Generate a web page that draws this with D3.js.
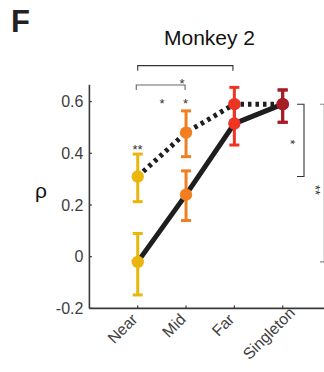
<!DOCTYPE html>
<html>
<head>
<meta charset="utf-8">
<script src="https://cdn.jsdelivr.net/npm/d3@7"></script>
<style>
  html, body { margin: 0; padding: 0; background: #fff; }
  svg { display: block; font-family: "Liberation Sans", Arial, sans-serif; }
</style>
</head>
<body>
<svg id="chart" width="324" height="372"></svg>
<script>
// Conditions along the x axis
const categories = ["Near", "Mid", "Far", "Singleton"];
const categoryColors = ["#EAB60E", "#F27E22", "#EE3524", "#A51D25"];

// Correlation (rho) per condition, solid and dotted series
const solidValues = [-0.02, 0.24, 0.515, 0.59];
const solidLow    = [-0.148, 0.14, 0.432, 0.52];
const solidHigh   = [0.09, 0.332, 0.60, 0.645];

const dottedValues = [0.31, 0.48, 0.59, 0.59];
const dottedLow    = [0.213, 0.387, 0.525, 0.52];
const dottedHigh   = [0.397, 0.564, 0.655, 0.645];

const yTicks = [-0.2, 0, 0.2, 0.4, 0.6];
const yTickLabels = ["-0.2", "0", "0.2", "0.4", "0.6"];

const svg = d3.select("#chart");

const x = d3.scaleLinear().domain([0, 5]).range([89.4, 331]);
const y = d3.scaleLinear().domain([-0.2, 0.6]).range([308.4, 101.6]);
const yTop = 0.665;

const axisColor = "#3a3a3a";
const textColor = "#404040";

// Panel letter and title
svg.append("text").attr("x", 11).attr("y", 32)
  .attr("font-size", 31).attr("font-weight", "bold").attr("fill", "#222")
  .text("F");
svg.append("text").attr("x", 209.5).attr("y", 45)
  .attr("text-anchor", "middle").attr("font-size", 21).attr("fill", "#111")
  .text("Monkey 2");

// Axes
const gAxes = svg.append("g");
gAxes.append("line")
  .attr("x1", x(0)).attr("x2", x(0))
  .attr("y1", y(yTop)).attr("y2", y(-0.2))
  .attr("stroke", axisColor).attr("stroke-width", 1.6);
gAxes.append("line")
  .attr("x1", x(0)).attr("x2", 324)
  .attr("y1", y(-0.2)).attr("y2", y(-0.2))
  .attr("stroke", axisColor).attr("stroke-width", 1.6);

// y ticks (pointing inward) and labels
yTicks.forEach((t, i) => {
  gAxes.append("line")
    .attr("x1", x(0)).attr("x2", x(0) + 2.5)
    .attr("y1", y(t)).attr("y2", y(t))
    .attr("stroke", axisColor).attr("stroke-width", 1.2);
  gAxes.append("text")
    .attr("x", x(0) - 6).attr("y", y(t) + 5.5)
    .attr("text-anchor", "end").attr("font-size", 16).attr("fill", textColor)
    .text(yTickLabels[i]);
});

// x ticks and rotated labels; the long last label sits further along its slant
categories.forEach((c, i) => {
  const xp = x(i + 1);
  const shift = c === "Singleton" ? [12.5, -6.5] : [0, 0];
  gAxes.append("line")
    .attr("x1", xp).attr("x2", xp)
    .attr("y1", y(-0.2)).attr("y2", y(-0.2) - 3)
    .attr("stroke", axisColor).attr("stroke-width", 1.2);
  gAxes.append("text")
    .attr("transform", `translate(${xp + 0.8 + shift[0]},${y(-0.2) + 12 + shift[1]}) rotate(-45)`)
    .attr("text-anchor", "end").attr("font-size", 15.8).attr("fill", textColor)
    .text(c);
});

// y axis label
svg.append("text").attr("x", 41).attr("y", 198)
  .attr("text-anchor", "middle").attr("font-size", 21).attr("fill", "#111")
  .text("ρ");

// Connecting lines
const line = d3.line().x((d, i) => x(i + 1)).y(d => y(d));
svg.append("path").datum(dottedValues)
  .attr("d", line).attr("fill", "none")
  .attr("stroke", "#1e1e1e").attr("stroke-width", 5)
  .attr("stroke-dasharray", "3.5,4");
svg.append("path").datum(solidValues)
  .attr("d", line).attr("fill", "none")
  .attr("stroke", "#1e1e1e").attr("stroke-width", 5);

// Error bars and markers for each series
function drawSeries(values, lows, highs) {
  const g = svg.append("g");
  values.forEach((v, i) => {
    const xp = x(i + 1), col = categoryColors[i];
    g.append("line").attr("x1", xp).attr("x2", xp)
      .attr("y1", y(lows[i])).attr("y2", y(highs[i]))
      .attr("stroke", col).attr("stroke-width", 3);
    [lows[i], highs[i]].forEach(e => {
      g.append("line").attr("x1", xp - 5).attr("x2", xp + 5)
        .attr("y1", y(e)).attr("y2", y(e))
        .attr("stroke", col).attr("stroke-width", 3);
    });
    g.append("circle").attr("cx", xp).attr("cy", y(v)).attr("r", 6.2)
      .attr("fill", col);
  });
}
drawSeries(solidValues, solidLow, solidHigh);
drawSeries(dottedValues, dottedLow, dottedHigh);

// Significance brackets
const ann = svg.append("g").attr("fill", "none");
function topBracket(i1, i2, level, col) {
  const yy = y(level);
  ann.append("path")
    .attr("d", `M${x(i1)},${yy + 5}V${yy}H${x(i2)}V${yy + 5}`)
    .attr("stroke", col).attr("stroke-width", 1.1);
}
topBracket(1, 2.97, 0.739, "#333");
topBracket(0.97, 1.98, 0.664, "#666");

function star(xp, yp, txt, rot) {
  svg.append("text")
    .attr("transform", `translate(${xp},${yp}) rotate(${rot || 0})`)
    .attr("text-anchor", "middle").attr("font-size", 13).attr("fill", "#333")
    .text(txt);
}
star(182, 88, "*");
star(162, 108, "*");
star(185.5, 108, "*");
star(137.5, 154, "**");

// Right-side brackets
ann.append("path")
  .attr("d", `M297,${y(0.59)}H304V${y(0.31)}H297`)
  .attr("stroke", "#333").attr("stroke-width", 1.1);
star(285.5, 142, "*", 90);
ann.append("path")
  .attr("d", `M323.5,${y(0.59)}V${y(-0.02)}`)
  .attr("stroke", "#ddd").attr("stroke-width", 1);
ann.append("path")
  .attr("d", `M320,${y(0.59)}H324M320,${y(-0.02)}H324`)
  .attr("stroke", "#888").attr("stroke-width", 1.1);
star(310.5, 190, "**", 90);
</script>
</body>
</html>
